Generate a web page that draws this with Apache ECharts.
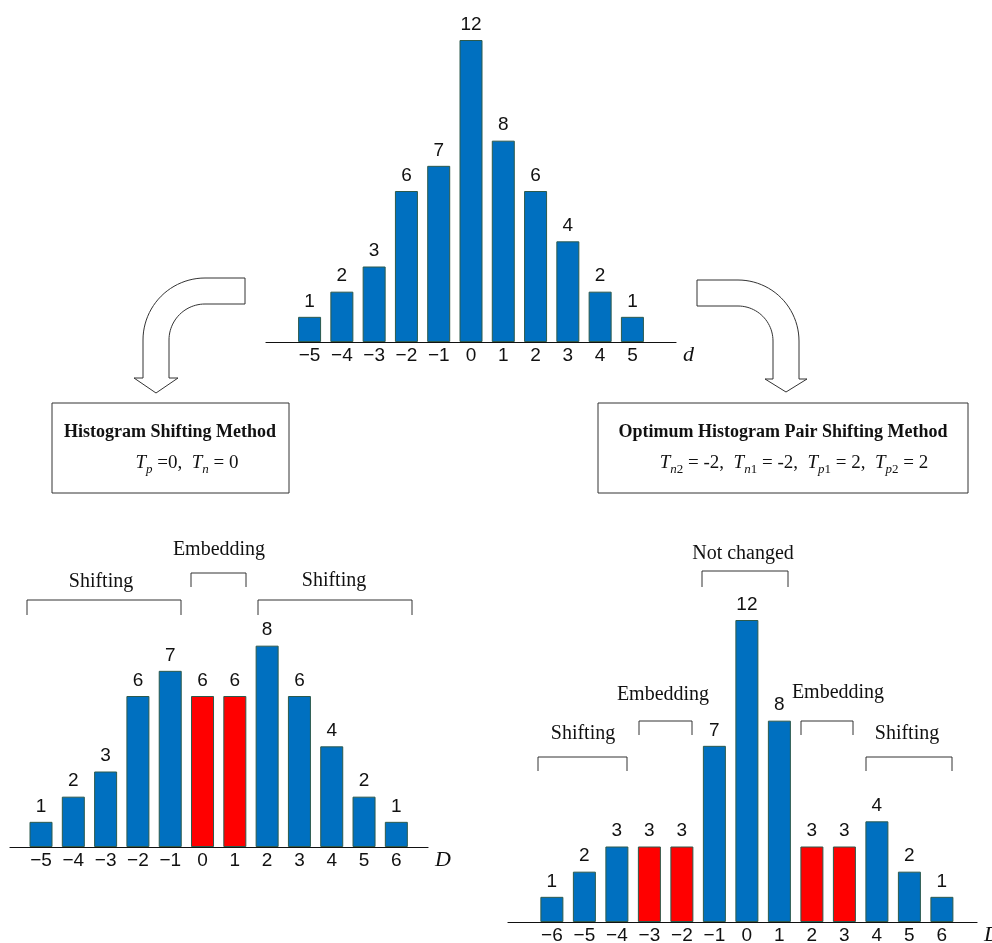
<!DOCTYPE html>
<html>
<head>
<meta charset="utf-8">
<script src="https://cdn.jsdelivr.net/npm/echarts@6/dist/echarts.min.js"></script>
<style>
  html, body { margin: 0; padding: 0; background: #fff; }
  #chart { width: 992px; height: 943px; }
</style>
</head>
<body>
<div id="chart"></div>
<script>
// original difference histogram
const topD = [-5, -4, -3, -2, -1, 0, 1, 2, 3, 4, 5];
const topCounts = [1, 2, 3, 6, 7, 12, 8, 6, 4, 2, 1];

// histogram shifting method
const hsD = [-5, -4, -3, -2, -1, 0, 1, 2, 3, 4, 5, 6];
const hsCounts = [1, 2, 3, 6, 7, 6, 6, 8, 6, 4, 2, 1];
const hsEmbed = [0, 1];

// optimum histogram pair shifting method
const ohpsD = [-6, -5, -4, -3, -2, -1, 0, 1, 2, 3, 4, 5, 6];
const ohpsCounts = [1, 2, 3, 3, 3, 7, 12, 8, 3, 3, 4, 2, 1];
const ohpsEmbed = [-3, -2, 2, 3];

const BLUE = "#0070c0";
const RED = "#ff0000";
const SERIF = "'Liberation Serif', 'DejaVu Serif', serif";
const SANS = "'Liberation Sans', Arial, sans-serif";

const chart = echarts.init(document.getElementById("chart"));

function minusLabel(v) {
  return v < 0 ? "\u2212" + Math.abs(v) : String(v);
}

function xAxisFor(gridIndex, values, min, max, name) {
  return {
    type: "value",
    gridIndex,
    min,
    max,
    name,
    nameLocation: "end",
    nameGap: 7,
    nameTextStyle: {
      fontFamily: SERIF,
      fontStyle: "italic",
      fontSize: 22,
      color: "#111",
      align: "left",
      verticalAlign: "top",
      padding: [2, 0, 0, 0],
    },
    axisLine: { lineStyle: { color: "#111", width: 1.2 } },
    axisTick: { show: false },
    splitLine: { show: false },
    axisLabel: {
      customValues: values,
      formatter: minusLabel,
      fontFamily: SANS,
      fontSize: 19,
      color: "#111",
      margin: 4,
    },
  };
}

function yAxisFor(gridIndex) {
  return { type: "value", gridIndex, min: 0, max: 12, show: false };
}

function barSeries(axisIndex, xs, counts, embed) {
  return {
    type: "bar",
    xAxisIndex: axisIndex,
    yAxisIndex: axisIndex,
    barWidth: 23,
    data: xs.map((x, i) => ({
      value: [x, counts[i]],
      itemStyle: { color: embed.includes(x) ? RED : BLUE },
    })),
    itemStyle: { borderColor: "#2c5a4c", borderWidth: 1 },
    label: {
      show: true,
      position: "top",
      distance: 6,
      fontFamily: SANS,
      fontSize: 19,
      color: "#111",
      formatter: (p) => p.value[1],
    },
    silent: true,
  };
}

// hollow bent arrow: straight stub, quarter turn, shaft, head
function bentArrow(tailX, cx, cy, R, r, dir, headY, tipY, headHalf) {
  const pts = [];
  const outerTop = cy - R;
  const innerTop = cy - r;
  const outerSide = cx + dir * R;
  const innerSide = cx + dir * r;
  pts.push([tailX, outerTop]);
  for (let i = 0; i <= 24; i++) {
    const a = (Math.PI / 2) * (i / 24);
    pts.push([cx + dir * R * Math.sin(a), cy - R * Math.cos(a)]);
  }
  pts.push([outerSide, headY]);
  const mid = (outerSide + innerSide) / 2;
  pts.push([mid + dir * headHalf, headY]);
  pts.push([mid, tipY]);
  pts.push([mid - dir * headHalf, headY]);
  pts.push([innerSide, headY]);
  for (let i = 24; i >= 0; i--) {
    const a = (Math.PI / 2) * (i / 24);
    pts.push([cx + dir * r * Math.sin(a), cy - r * Math.cos(a)]);
  }
  pts.push([tailX, innerTop]);
  return {
    type: "polygon",
    shape: { points: pts },
    style: { fill: "#fff", stroke: "#333", lineWidth: 1 },
  };
}

function bracket(x1, x2, yTop, yBottom) {
  return {
    type: "polyline",
    shape: { points: [[x1, yBottom], [x1, yTop], [x2, yTop], [x2, yBottom]] },
    style: { stroke: "#333", lineWidth: 1, fill: null },
  };
}

function label(text, x, y) {
  return {
    type: "text",
    x,
    y,
    style: {
      text,
      fontFamily: SERIF,
      fontSize: 20,
      fill: "#111",
      align: "center",
      verticalAlign: "middle",
    },
  };
}

function box(x, y, w, h) {
  return {
    type: "rect",
    shape: { x, y, width: w, height: h },
    style: { fill: "#fff", stroke: "#333", lineWidth: 1 },
  };
}

const richT = {
  t: { fontFamily: SERIF, fontStyle: "italic", fontSize: 19, lineHeight: 26, fill: "#111" },
  s: { fontFamily: SERIF, fontStyle: "italic", fontSize: 13, lineHeight: 15, verticalAlign: "bottom", fill: "#111" },
  k: { fontFamily: SERIF, fontSize: 13, lineHeight: 15, verticalAlign: "bottom", fill: "#111" },
  n: { fontFamily: SERIF, fontSize: 19, lineHeight: 26, fill: "#111" },
};

function title(text, x, y) {
  return {
    type: "text",
    x,
    y,
    style: {
      text,
      fontFamily: SERIF,
      fontWeight: "bold",
      fontSize: 18,
      fill: "#111",
      align: "center",
      verticalAlign: "middle",
    },
  };
}

function formula(text, x, y) {
  return {
    type: "text",
    x,
    y,
    style: { text, rich: richT, align: "center", verticalAlign: "middle" },
  };
}

chart.setOption({
  animation: false,
  backgroundColor: "#fff",
  grid: [
    { left: 266, top: 40, width: 410, height: 302, outerBoundsMode: "none" },
    { left: 10, top: 545, width: 418, height: 302, outerBoundsMode: "none" },
    { left: 508, top: 620, width: 469, height: 302, outerBoundsMode: "none" },
  ],
  xAxis: [
    xAxisFor(0, topD, -6.35, 6.35, "d"),
    xAxisFor(1, hsD, -5.96, 6.98, "D"),
    xAxisFor(2, ohpsD, -7.35, 7.08, "D"),
  ],
  yAxis: [yAxisFor(0), yAxisFor(1), yAxisFor(2)],
  series: [
    barSeries(0, topD, topCounts, []),
    barSeries(1, hsD, hsCounts, hsEmbed),
    barSeries(2, ohpsD, ohpsCounts, ohpsEmbed),
  ],
  graphic: [
    bentArrow(245, 205, 340, 62, 36, -1, 378, 393, 22),
    bentArrow(697, 738, 341, 61, 35, 1, 379, 392, 21),

    box(52, 403, 237, 90),
    title("Histogram Shifting Method", 170, 432),
    formula("{t|T}{s|p}{n| =0,  }{t|T}{s|n}{n| = 0}", 187, 463),

    box(598, 403, 370, 90),
    title("Optimum Histogram Pair Shifting Method", 783, 432),
    formula(
      "{t|T}{s|n}{k|2}{n| = -2,  }{t|T}{s|n}{k|1}{n| = -2,  }{t|T}{s|p}{k|1}{n| = 2,  }{t|T}{s|p}{k|2}{n| = 2}",
      794,
      463
    ),

    // histogram shifting brackets
    bracket(27, 181, 600, 615),
    label("Shifting", 101, 582),
    bracket(191, 246, 573, 587),
    label("Embedding", 219, 550),
    bracket(258, 412, 600, 615),
    label("Shifting", 334, 581),

    // optimum pair brackets
    bracket(702, 788, 571, 587),
    label("Not changed", 743, 554),
    bracket(639, 692, 721, 735),
    label("Embedding", 663, 695),
    bracket(801, 853, 721, 735),
    label("Embedding", 838, 693),
    bracket(538, 627, 757, 771),
    label("Shifting", 583, 734),
    bracket(866, 952, 757, 771),
    label("Shifting", 907, 734),
  ],
});
</script>
</body>
</html>
